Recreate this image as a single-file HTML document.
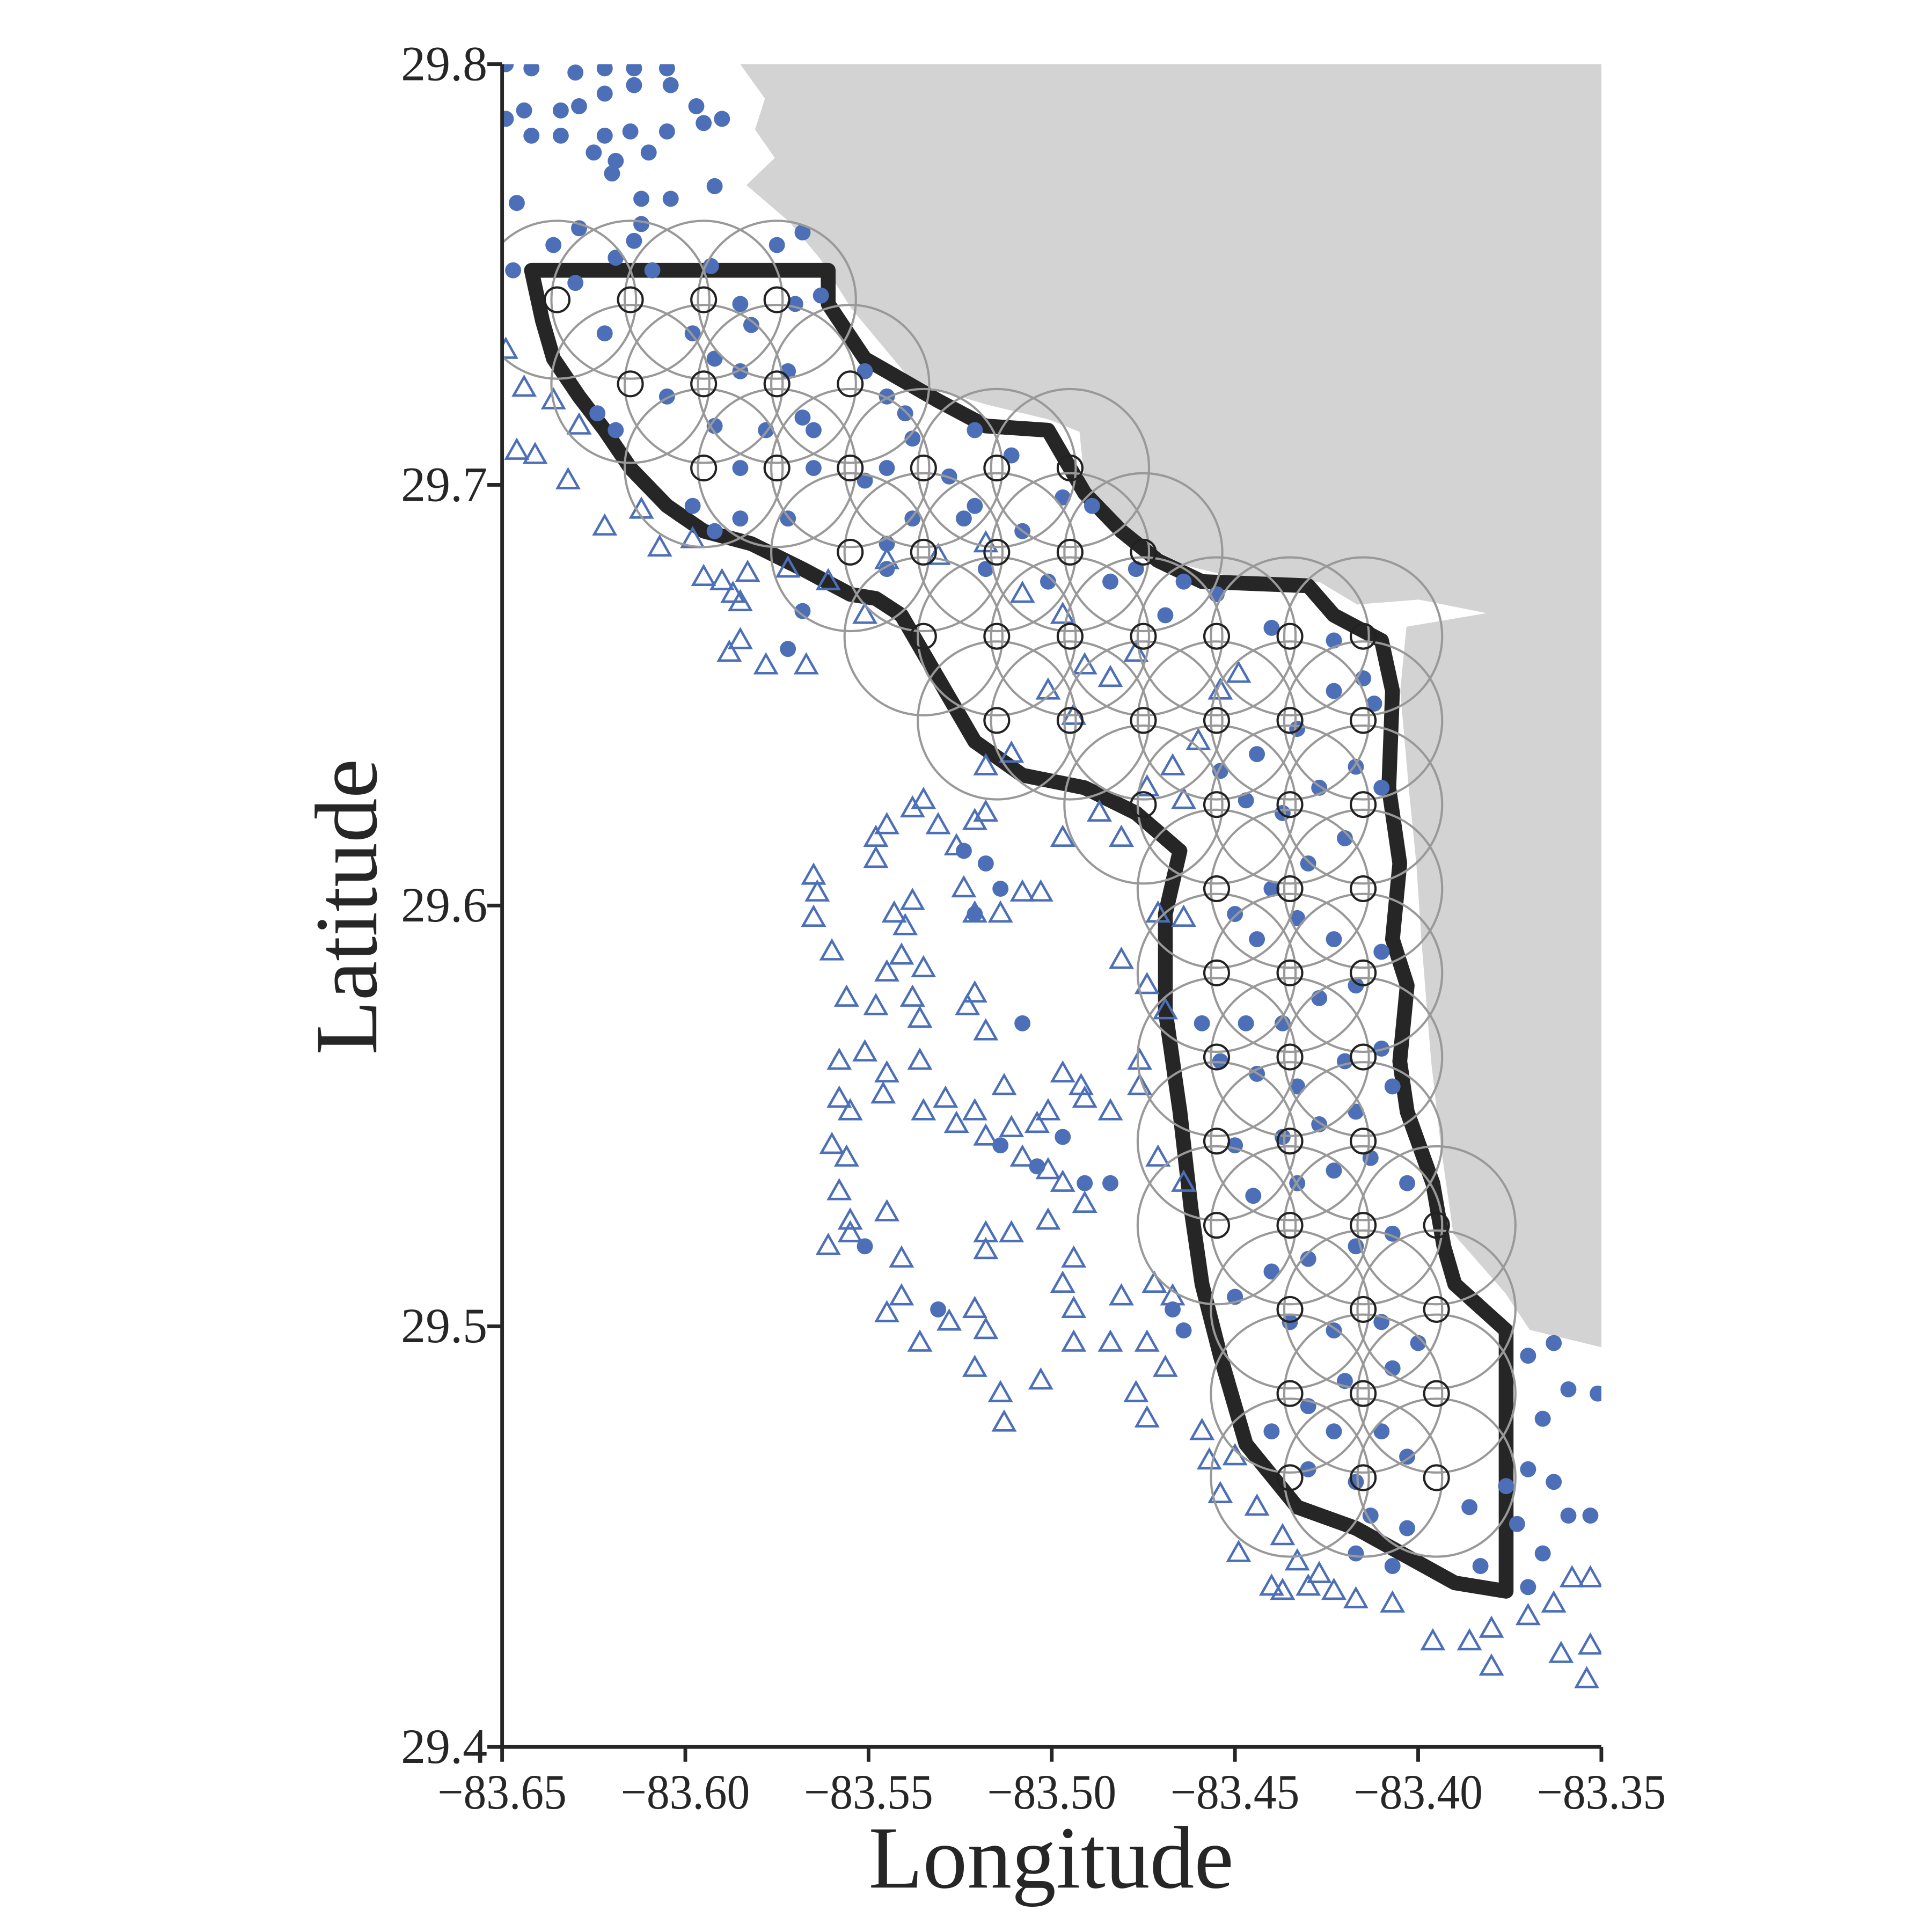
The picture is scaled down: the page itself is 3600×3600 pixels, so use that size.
<!DOCTYPE html>
<html><head><meta charset="utf-8"><style>
html,body{margin:0;padding:0;background:#fff;}
svg{display:block;}
text{font-family:"Liberation Serif",serif;fill:#262626;}
</style></head><body>
<svg id="chart" width="3600" height="3600" viewBox="0 0 1566 1566" xmlns="http://www.w3.org/2000/svg">
<defs><clipPath id="plotclip"><rect x="407" y="52" width="891" height="1364"/></clipPath></defs>
<g id="plot" clip-path="url(#plotclip)">
<path fill="#d3d3d3" d="M600,52 L620,80 L612,105 L628,128 L605,150 L640,180 L665,210 L690,250 L740,310 L800,328 L850,340 L875,350 L880,400 L915,435 L960,458 L1000,468 L1070,472 L1100,490 L1150,486 L1205,497 L1140,508 L1135,560 L1142,640 L1148,700 L1152,760 L1160,860 L1168,930 L1178,1000 L1220,1048 L1240,1078 L1298,1092 L1298,52 Z"/>
<g id="boundary-g"></g>
<g id="dots-g"></g>
<g id="tri-g"></g>
<g id="big-g"></g>
<g id="small-g"></g>
</g>
<g id="axes"></g>
<text x="852" y="1530" font-size="72" text-anchor="middle">Longitude</text>
<text x="0" y="0" font-size="72" text-anchor="middle" transform="translate(305,735) rotate(-90)">Latitude</text>
</svg>
<script>
const xDomain=[-83.65,-83.35], yDomain=[29.4,29.8];
const xTicks=[-83.65,-83.60,-83.55,-83.50,-83.45,-83.40,-83.35];
const xTickLabels=["−83.65","−83.60","−83.55","−83.50","−83.45","−83.40","−83.35"];
const yTicks=[29.4,29.5,29.6,29.7,29.8];
const yTickLabels=["29.4","29.5","29.6","29.7","29.8"];
const dotLon=[-83.649,-83.642,-83.630,-83.622,-83.614,-83.605,-83.649,-83.644,-83.634,-83.629,-83.622,-83.614,-83.604,-83.597,-83.590,-83.642,-83.634,-83.622,-83.615,-83.605,-83.595,-83.625,-83.619,-83.610,-83.620,-83.592,-83.612,-83.604,-83.646,-83.612,-83.629,-83.614,-83.636,-83.619,-83.647,-83.630,-83.609,-83.593,-83.575,-83.568,-83.570,-83.563,-83.585,-83.582,-83.598,-83.622,-83.592,-83.585,-83.572,-83.551,-83.545,-83.540,-83.568,-83.565,-83.578,-83.592,-83.538,-83.605,-83.624,-83.619,-83.585,-83.565,-83.551,-83.545,-83.521,-83.511,-83.528,-83.521,-83.508,-83.497,-83.489,-83.524,-83.538,-83.545,-83.585,-83.598,-83.592,-83.572,-83.545,-83.518,-83.501,-83.484,-83.477,-83.464,-83.469,-83.455,-83.440,-83.423,-83.415,-83.412,-83.423,-83.433,-83.444,-83.454,-83.447,-83.437,-83.427,-83.417,-83.410,-83.420,-83.430,-83.440,-83.450,-83.444,-83.433,-83.423,-83.410,-83.417,-83.427,-83.437,-83.447,-83.459,-83.454,-83.444,-83.433,-83.420,-83.410,-83.407,-83.417,-83.427,-83.437,-83.450,-83.445,-83.433,-83.423,-83.413,-83.403,-83.407,-83.417,-83.430,-83.440,-83.450,-83.435,-83.423,-83.410,-83.400,-83.407,-83.420,-83.430,-83.440,-83.423,-83.410,-83.403,-83.417,-83.430,-83.413,-83.403,-83.386,-83.383,-83.370,-83.363,-83.359,-83.366,-83.370,-83.363,-83.359,-83.366,-83.370,-83.353,-83.351,-83.417,-83.407,-83.518,-83.514,-83.521,-83.524,-83.508,-83.514,-83.504,-83.497,-83.491,-83.484,-83.467,-83.464,-83.531,-83.551,-83.572,-83.568,-83.376,-83.373];
const dotLat=[29.800,29.799,29.798,29.799,29.799,29.799,29.787,29.789,29.789,29.790,29.793,29.795,29.795,29.790,29.787,29.783,29.783,29.783,29.784,29.784,29.786,29.779,29.777,29.779,29.774,29.771,29.768,29.768,29.767,29.762,29.761,29.758,29.757,29.754,29.751,29.748,29.751,29.752,29.757,29.760,29.743,29.745,29.743,29.738,29.736,29.736,29.730,29.727,29.727,29.727,29.721,29.717,29.716,29.713,29.713,29.714,29.711,29.721,29.717,29.713,29.704,29.704,29.701,29.704,29.713,29.707,29.702,29.695,29.689,29.697,29.695,29.692,29.692,29.686,29.692,29.695,29.689,29.692,29.680,29.680,29.677,29.677,29.680,29.677,29.669,29.674,29.666,29.663,29.654,29.648,29.651,29.642,29.636,29.632,29.625,29.622,29.628,29.633,29.628,29.616,29.610,29.604,29.598,29.592,29.597,29.592,29.589,29.581,29.578,29.572,29.572,29.572,29.563,29.560,29.557,29.563,29.566,29.557,29.551,29.548,29.545,29.543,29.531,29.534,29.537,29.540,29.534,29.522,29.519,29.516,29.513,29.507,29.501,29.499,29.501,29.496,29.490,29.487,29.481,29.475,29.475,29.475,29.469,29.463,29.466,29.455,29.452,29.457,29.443,29.493,29.496,29.485,29.478,29.466,29.463,29.455,29.446,29.438,29.455,29.484,29.446,29.443,29.610,29.604,29.598,29.613,29.572,29.543,29.538,29.545,29.534,29.534,29.504,29.499,29.504,29.519,29.661,29.670,29.462,29.453];
const triLon=[-83.649,-83.644,-83.636,-83.629,-83.646,-83.641,-83.632,-83.622,-83.612,-83.607,-83.598,-83.595,-83.590,-83.583,-83.587,-83.585,-83.588,-83.585,-83.578,-83.567,-83.572,-83.561,-83.551,-83.545,-83.531,-83.518,-83.508,-83.497,-83.491,-83.484,-83.477,-83.501,-83.494,-83.518,-83.511,-83.497,-83.487,-83.481,-83.474,-83.467,-83.460,-83.454,-83.449,-83.464,-83.538,-83.535,-83.545,-83.548,-83.548,-83.531,-83.526,-83.521,-83.518,-83.565,-83.564,-83.565,-83.560,-83.543,-83.538,-83.540,-83.541,-83.535,-83.545,-83.524,-83.521,-83.514,-83.508,-83.503,-83.556,-83.548,-83.538,-83.536,-83.521,-83.523,-83.518,-83.558,-83.551,-83.545,-83.536,-83.546,-83.558,-83.555,-83.535,-83.529,-83.526,-83.521,-83.513,-83.518,-83.511,-83.504,-83.497,-83.492,-83.491,-83.501,-83.508,-83.501,-83.497,-83.560,-83.556,-83.558,-83.555,-83.561,-83.555,-83.545,-83.518,-83.511,-83.518,-83.501,-83.491,-83.494,-83.497,-83.494,-83.481,-83.472,-83.521,-83.518,-83.528,-83.541,-83.541,-83.545,-83.536,-83.521,-83.514,-83.513,-83.503,-83.494,-83.484,-83.474,-83.469,-83.477,-83.474,-83.467,-83.471,-83.464,-83.484,-83.476,-83.481,-83.474,-83.469,-83.476,-83.471,-83.464,-83.459,-83.457,-83.454,-83.450,-83.444,-83.437,-83.433,-83.427,-83.437,-83.440,-83.430,-83.423,-83.417,-83.407,-83.449,-83.396,-83.386,-83.380,-83.380,-83.370,-83.363,-83.361,-83.353,-83.354,-83.353,-83.358];
const triLat=[29.732,29.723,29.720,29.714,29.708,29.707,29.701,29.690,29.694,29.685,29.687,29.678,29.677,29.679,29.674,29.672,29.660,29.663,29.657,29.657,29.680,29.677,29.669,29.682,29.683,29.686,29.674,29.669,29.657,29.654,29.660,29.651,29.645,29.633,29.636,29.616,29.622,29.616,29.628,29.633,29.639,29.651,29.655,29.625,29.623,29.625,29.619,29.616,29.611,29.619,29.614,29.620,29.622,29.607,29.603,29.597,29.589,29.598,29.601,29.595,29.588,29.585,29.584,29.604,29.598,29.598,29.603,29.603,29.578,29.576,29.578,29.573,29.579,29.576,29.570,29.563,29.565,29.560,29.563,29.555,29.554,29.551,29.551,29.554,29.548,29.551,29.557,29.545,29.547,29.548,29.560,29.557,29.554,29.551,29.540,29.537,29.534,29.543,29.540,29.532,29.525,29.519,29.522,29.527,29.522,29.522,29.518,29.525,29.529,29.516,29.510,29.504,29.507,29.510,29.504,29.499,29.501,29.516,29.507,29.503,29.496,29.490,29.484,29.477,29.487,29.496,29.496,29.496,29.490,29.484,29.478,29.507,29.540,29.534,29.551,29.557,29.587,29.581,29.575,29.563,29.598,29.597,29.475,29.468,29.460,29.469,29.457,29.450,29.444,29.441,29.437,29.438,29.438,29.437,29.435,29.434,29.446,29.425,29.425,29.419,29.428,29.431,29.434,29.422,29.424,29.416,29.440,29.440];
const gridLon=[-83.635,-83.615,-83.595,-83.575, -83.615,-83.595,-83.575,-83.555, -83.595,-83.575,-83.555,-83.535,-83.515,-83.495, -83.555,-83.535,-83.515,-83.495,-83.475, -83.535,-83.515,-83.495,-83.475,-83.455,-83.435,-83.415, -83.515,-83.495,-83.475,-83.455,-83.435,-83.415, -83.475,-83.455,-83.435,-83.415, -83.455,-83.435,-83.415, -83.455,-83.435,-83.415, -83.455,-83.435,-83.415, -83.455,-83.435,-83.415, -83.455,-83.435,-83.415,-83.395, -83.435,-83.415,-83.395, -83.435,-83.415,-83.395, -83.435,-83.415,-83.395];
const gridLat=[29.744,29.744,29.744,29.744, 29.724,29.724,29.724,29.724, 29.704,29.704,29.704,29.704,29.704,29.704, 29.684,29.684,29.684,29.684,29.684, 29.664,29.664,29.664,29.664,29.664,29.664,29.664, 29.644,29.644,29.644,29.644,29.644,29.644, 29.624,29.624,29.624,29.624, 29.604,29.604,29.604, 29.584,29.584,29.584, 29.564,29.564,29.564, 29.544,29.544,29.544, 29.524,29.524,29.524,29.524, 29.504,29.504,29.504, 29.484,29.484,29.484, 29.464,29.464,29.464];
const bLon=[-83.642,-83.561,-83.561,-83.551,-83.531,-83.518,-83.501,-83.491,-83.481,-83.471,-83.459,-83.430,-83.423,-83.410,-83.407,-83.408,-83.405,-83.407,-83.403,-83.405,-83.403,-83.396,-83.393,-83.390,-83.376,-83.376,-83.390,-83.417,-83.433,-83.447,-83.454,-83.459,-83.462,-83.465,-83.469,-83.469,-83.465,-83.477,-83.491,-83.508,-83.521,-83.531,-83.541,-83.548,-83.555,-83.568,-83.582,-83.595,-83.605,-83.615,-83.622,-83.629,-83.636,-83.639,-83.642];
const bLat=[29.751,29.751,29.743,29.730,29.720,29.714,29.713,29.698,29.689,29.682,29.677,29.676,29.669,29.663,29.651,29.628,29.610,29.592,29.581,29.563,29.551,29.534,29.519,29.510,29.499,29.437,29.439,29.452,29.457,29.472,29.493,29.510,29.528,29.551,29.575,29.598,29.613,29.622,29.628,29.631,29.639,29.654,29.669,29.673,29.674,29.680,29.686,29.689,29.695,29.704,29.713,29.721,29.730,29.739,29.751];

const X0=407,X1=1298,Y0=1416,Y1=52;
function xs(v){return X0+(v-xDomain[0])/(xDomain[1]-xDomain[0])*(X1-X0);}
function ys(v){return Y0-(v-yDomain[0])/(yDomain[1]-yDomain[0])*(Y0-Y1);}
const NS="http://www.w3.org/2000/svg";
function mk(tag,parent,attrs){const e=document.createElementNS(NS,tag);for(const k in attrs)e.setAttribute(k,attrs[k]);parent.appendChild(e);return e;}

const bg=document.getElementById('boundary-g');
let d='';for(let i=0;i<bLon.length;i++){d+=(i?'L':'M')+xs(bLon[i]).toFixed(1)+','+ys(bLat[i]).toFixed(1);}
const bp=mk('path',bg,{d:d+'Z',fill:'none',stroke:'#262626','stroke-width':12,'stroke-linejoin':'round'});



const dg=document.getElementById('dots-g');
for(let i=0;i<dotLon.length;i++){
 const c=mk('circle',dg,{cx:xs(dotLon[i]),cy:ys(dotLat[i]),r:6.5,fill:'#4c6fb8'});
 
 
}
const tg=document.getElementById('tri-g');
for(let i=0;i<triLon.length;i++){
 const x=xs(triLon[i]),y=ys(triLat[i]);
 const p=mk('polygon',tg,{points:`${x},${y-9} ${x+8.5},${y+6} ${x-8.5},${y+6}`,fill:'none',stroke:'#4c6fb8','stroke-width':2});
 
 
}
const bgc=document.getElementById('big-g'),sg=document.getElementById('small-g');
for(let i=0;i<gridLon.length;i++){
 const x=xs(gridLon[i]),y=ys(gridLat[i]);
 const b=mk('circle',bgc,{cx:x,cy:y,r:64,fill:'none',stroke:'#999','stroke-width':1.8});
 
 
 const s=mk('circle',sg,{cx:x,cy:y,r:10,fill:'none',stroke:'#222','stroke-width':1.8});
 
 
}
const ax=document.getElementById('axes');
const xl=mk('line',ax,{x1:X0,y1:Y0,x2:X1,y2:Y0,stroke:'#262626','stroke-width':3});


const yl=mk('line',ax,{x1:X0,y1:Y0,x2:X0,y2:Y1,stroke:'#262626','stroke-width':3});


for(let i=0;i<xTicks.length;i++){
 const x=xs(xTicks[i]);
 const t=mk('line',ax,{x1:x,y1:Y0,x2:x,y2:Y0+12,stroke:'#262626','stroke-width':3});
 
 
 const l=mk('text',ax,{x:x,y:Y0+50,'font-size':40,'text-anchor':'middle',transform:`translate(${x},0) scale(0.93,1) translate(${-x},0)`});
 l.textContent=xTickLabels[i];
 
 
}
for(let i=0;i<yTicks.length;i++){
 const y=ys(yTicks[i]);
 const t=mk('line',ax,{x1:X0-12,y1:y,x2:X0,y2:y,stroke:'#262626','stroke-width':3});
 
 
 const l=mk('text',ax,{x:395,y:y+13,'font-size':40,'text-anchor':'end'});
 l.textContent=yTickLabels[i];
 
 
}
</script>
</body></html>
